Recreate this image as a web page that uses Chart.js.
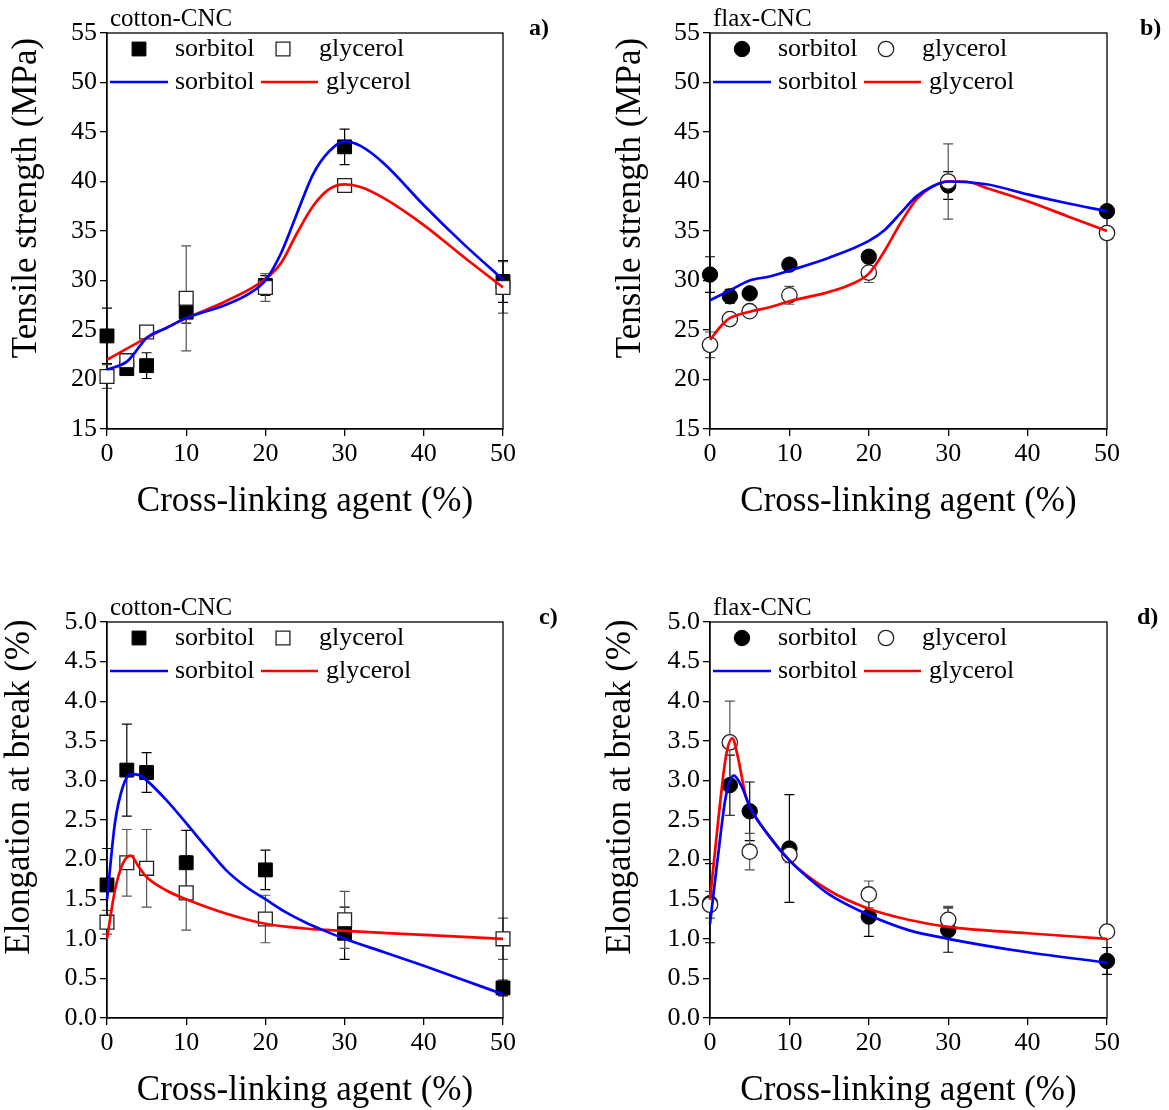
<!DOCTYPE html>
<html><head><meta charset="utf-8">
<script src="https://cdn.jsdelivr.net/npm/chart.js@4.4.0/dist/chart.umd.min.js"></script>
<style>
html,body{margin:0;padding:0;background:#fff;}
#wrap{position:relative;width:1169px;height:1110px;background:#fff;overflow:hidden;}
canvas{position:absolute;}
</style></head><body><div id="wrap">
<canvas id="ca" width="585" height="555" style="left:0px;top:0px;width:585px;height:555px"></canvas>
<canvas id="cb" width="579" height="555" style="left:590px;top:0px;width:579px;height:555px"></canvas>
<canvas id="cc" width="585" height="520" style="left:0px;top:590px;width:585px;height:520px"></canvas>
<canvas id="cd" width="579" height="520" style="left:590px;top:590px;width:579px;height:520px"></canvas>
</div>
<script>
// ---------- data ----------
const loading = [0, 2.5, 5, 10, 20, 30, 50];
const xTickValues = [0, 10, 20, 30, 40, 50];
const tsTickValues = [15, 20, 25, 30, 35, 40, 45, 50, 55];
const tsTickLabels = ['15', '20', '25', '30', '35', '40', '45', '50', '55'];
const ebTickValues = [0, 0.5, 1, 1.5, 2, 2.5, 3, 3.5, 4, 4.5, 5];
const ebTickLabels = ['0.0', '0.5', '1.0', '1.5', '2.0', '2.5', '3.0', '3.5', '4.0', '4.5', '5.0'];

// a) cotton-CNC tensile strength
const cottonTS_sorbitol = [24.4, 21.1, 21.4, 26.8, 29.5, 43.5, 29.9];
const cottonTS_sorbitolErr = [2.8, 0.5, 1.3, 1.1, 1.0, 1.8, 2.1];
const cottonTS_glycerol = [20.3, 21.9, 24.8, 28.2, 29.3, 39.6, 29.3];
const cottonTS_glycerolErr = [1.2, 0.4, 0.3, 5.3, 1.4, 0.5, 2.6];
const cottonTS_fitSorbitolX = [0, 2.5, 3.5, 5, 7.5, 10, 15, 18, 20, 22, 24, 26, 28, 30, 32, 35, 40, 45, 50];
const cottonTS_fitSorbitolY = [21.0, 21.8, 22.7, 24.2, 25.2, 26.2, 27.55, 28.7, 30.0, 32.8, 36.8, 40.7, 43.0, 44.05, 43.6, 41.8, 37.6, 33.7, 30.1];
const cottonTS_fitGlycerolX = [0, 5, 10, 15, 20, 22, 24, 26, 28, 30, 32, 35, 40, 45, 50];
const cottonTS_fitGlycerolY = [22.0, 24.2, 26.2, 27.9, 30.15, 31.8, 34.8, 37.5, 39.2, 39.7, 39.45, 38.3, 35.6, 32.4, 29.3];

// b) flax-CNC tensile strength
const flaxTS_sorbitol = [30.6, 28.4, 28.7, 31.6, 32.4, 39.6, 37.0];
const flaxTS_sorbitolErr = [1.8, 0.7, 0.3, 0.3, 0.6, 1.4, 0.3];
const flaxTS_glycerol = [23.5, 26.1, 26.9, 28.5, 30.8, 40.0, 34.8];
const flaxTS_glycerolErr = [1.3, 0.5, 0.3, 0.9, 1.0, 3.8, 0.3];
const flaxTS_fitSorbitolX = [0, 2.5, 5, 7.5, 10, 15, 20, 22, 24, 26, 28, 30, 35, 40, 45, 50];
const flaxTS_fitSorbitolY = [28.0, 29.0, 30.0, 30.4, 31.0, 32.3, 34.0, 35.1, 36.8, 38.5, 39.5, 40.0, 39.7, 38.7, 37.8, 37.0];
const flaxTS_fitGlycerolX = [0, 1.5, 2.5, 5, 7.5, 10, 15, 18, 20, 22, 24, 26, 28, 30, 32, 35, 40, 45, 50];
const flaxTS_fitGlycerolY = [24.0, 25.5, 26.2, 26.85, 27.3, 27.9, 28.85, 29.7, 30.7, 33.0, 35.8, 38.2, 39.5, 40.0, 40.0, 39.3, 38.0, 36.5, 35.0];

// c) cotton-CNC elongation at break
const cottonEB_sorbitol = [1.68, 3.13, 3.10, 1.96, 1.87, 1.07, 0.38];
const cottonEB_sorbitolErr = [0.46, 0.58, 0.25, 0.41, 0.25, 0.33, 0.10];
const cottonEB_glycerol = [1.21, 1.96, 1.89, 1.58, 1.25, 1.24, 1.00];
const cottonEB_glycerolErr = [0.15, 0.42, 0.49, 0.47, 0.30, 0.36, 0.26];
const cottonEB_fitSorbitolX = [0, 1, 2, 3, 4, 5, 7.5, 10, 12.5, 15, 17.5, 20, 22.5, 25, 27.5, 30, 35, 40, 45, 50];
const cottonEB_fitSorbitolY = [1.49, 2.46, 2.92, 3.08, 3.07, 3.0, 2.75, 2.46, 2.16, 1.87, 1.66, 1.50, 1.34, 1.21, 1.10, 1.00, 0.83, 0.66, 0.48, 0.30];
const cottonEB_fitGlycerolX = [0, 1, 2, 3, 4, 5, 7.5, 10, 15, 20, 25, 30, 40, 50];
const cottonEB_fitGlycerolY = [1.0, 1.61, 1.95, 2.05, 1.91, 1.78, 1.61, 1.50, 1.32, 1.19, 1.13, 1.10, 1.05, 1.00];

// d) flax-CNC elongation at break
const flaxEB_sorbitol = [1.45, 2.94, 2.61, 2.14, 1.28, 1.11, 0.72];
const flaxEB_sorbitolErr = [0.50, 0.38, 0.37, 0.68, 0.25, 0.28, 0.17];
const flaxEB_glycerol = [1.43, 3.48, 2.10, 2.06, 1.56, 1.24, 1.09];
const flaxEB_glycerolErr = [0.17, 0.52, 0.23, 0.10, 0.17, 0.17, 0.05];
const flaxEB_fitSorbitolX = [0, 1, 2, 3, 4, 5, 7.5, 10, 12.5, 15, 20, 25, 30, 40, 50];
const flaxEB_fitSorbitolY = [1.19, 2.04, 2.80, 3.06, 2.92, 2.67, 2.29, 1.99, 1.76, 1.56, 1.30, 1.11, 1.00, 0.83, 0.70];
const flaxEB_fitGlycerolX = [0, 1, 2, 2.8, 3.5, 4.5, 5, 7.5, 10, 15, 20, 25, 30, 40, 50];
const flaxEB_fitGlycerolY = [1.49, 2.46, 3.30, 3.53, 3.30, 2.80, 2.67, 2.29, 1.99, 1.61, 1.38, 1.24, 1.15, 1.07, 1.00];

const seriesNames = ['sorbitol', 'glycerol'];

// ---------- rendering ----------
const FONT = "'Liberation Serif', 'Times New Roman', serif";
function pts(xs, ys) { return xs.map((x, i) => ({ x: x, y: ys[i] })); }

const decorPlugin = {
  id: 'decor',
  beforeDatasetsDraw(chart) {
    const ctx = chart.ctx, a = chart.chartArea;
    const xs = chart.scales.x, ys = chart.scales.y;
    chart.data.datasets.forEach(ds => {
      if (!ds.errors) return;
      ctx.save();
      ctx.strokeStyle = ds.errorColor;
      ctx.lineWidth = 1.2;
      ds.data.forEach((p, i) => {
        const e = ds.errors[i];
        const px = xs.getPixelForValue(p.x);
        const y1 = ys.getPixelForValue(p.y + e), y2 = ys.getPixelForValue(p.y - e);
        ctx.beginPath();
        ctx.moveTo(px, y1); ctx.lineTo(px, y2);
        ctx.moveTo(px - 5, y1); ctx.lineTo(px + 5, y1);
        ctx.moveTo(px - 5, y2); ctx.lineTo(px + 5, y2);
        ctx.stroke();
      });
      ctx.restore();
    });
    ctx.save();
    ctx.strokeStyle = '#000'; ctx.lineWidth = 1.3;
    ctx.strokeRect(a.left, a.top, a.right - a.left, a.bottom - a.top);
    ctx.restore();
  },
  afterDatasetsDraw(chart) {
    const ctx = chart.ctx, a = chart.chartArea, o = chart.options.plugins.decor;
    const ds = chart.data.datasets;
    ctx.save();
    // legend
    const r1 = a.top + 16, r2 = a.top + 49;
    const markers = [ds[0], ds[1]];
    const mx = [a.left + 32, a.left + 176];
    markers.forEach((d, i) => {
      ctx.fillStyle = d.backgroundColor; ctx.strokeStyle = d.borderColor; ctx.lineWidth = d.borderWidth;
      Chart.helpers.drawPoint(ctx, { pointStyle: d.pointStyle, radius: d.pointRadius, borderWidth: d.borderWidth, rotation: 0 }, mx[i], r1);
    });
    const lines = [ds[2], ds[3]];
    const lx = [[a.left + 3, a.left + 61], [a.left + 154, a.left + 211]];
    lines.forEach((d, i) => {
      ctx.strokeStyle = d.borderColor; ctx.lineWidth = d.borderWidth;
      ctx.beginPath(); ctx.moveTo(lx[i][0], r2); ctx.lineTo(lx[i][1], r2); ctx.stroke();
    });
    ctx.fillStyle = '#000';
    ctx.font = '26px ' + FONT;
    ctx.textBaseline = 'middle'; ctx.textAlign = 'left';
    ctx.fillText(seriesNames[0], a.left + 68, r1);
    ctx.fillText(seriesNames[1], a.left + 212, r1);
    ctx.fillText(seriesNames[0], a.left + 68, r2);
    ctx.fillText(seriesNames[1], a.left + 219, r2);
    // panel label & letter
    ctx.textBaseline = 'alphabetic';
    ctx.font = '25px ' + FONT;
    ctx.fillText(o.label, a.left + 3, a.top - 7);
    ctx.font = 'bold 24px ' + FONT;
    ctx.fillText(o.letter, a.right + o.letterDx, a.top + 2);
    // axis titles
    ctx.font = '35px ' + FONT;
    ctx.textAlign = 'center';
    ctx.fillText(o.xTitle, (a.left + a.right) / 2, a.bottom + 82);
    ctx.save();
    ctx.translate(a.left - o.yTitleDx, a.top + 165);
    ctx.rotate(-Math.PI / 2);
    ctx.textBaseline = 'middle';
    ctx.fillText(o.yTitle, 0, 0);
    ctx.restore();
    ctx.restore();
  }
};

function makeChart(cfg) {
  const canvas = document.getElementById(cfg.id);
  const H = canvas.height;
  const marker = (name, ys, errs, filled, errColor, order) => ({
    label: name, data: pts(loading, ys), errors: errs, errorColor: errColor,
    pointStyle: cfg.style, pointRadius: cfg.style === 'rect' ? 9.8 : 7.7,
    backgroundColor: filled ? '#000' : '#fff', borderColor: filled ? '#000' : '#222',
    borderWidth: filled ? 1 : 1.3, showLine: false, clip: false, order: order
  });
  const curve = (name, xs, ys, color) => ({
    label: name, data: pts(xs, ys), showLine: true, pointRadius: 0, borderColor: color,
    backgroundColor: color, borderWidth: 2.7, cubicInterpolationMode: 'monotone', fill: false, clip: false, order: 0
  });
  new Chart(canvas, {
    type: 'scatter',
    data: { datasets: [
      marker(seriesNames[0], cfg.s, cfg.sErr, true, '#000', 2),
      marker(seriesNames[1], cfg.g, cfg.gErr, false, '#555', 1),
      curve(seriesNames[0], cfg.fsx, cfg.fsy, '#0000ff'),
      curve(seriesNames[1], cfg.fgx, cfg.fgy, '#ff0000')
    ] },
    options: {
      responsive: false, animation: false, devicePixelRatio: 1,
      layout: { padding: { left: 0, top: cfg.area.t, right: canvas.width - cfg.area.r, bottom: 0 } },
      plugins: { legend: { display: false }, tooltip: { enabled: false },
        decor: { label: cfg.label, letter: cfg.letter, letterDx: cfg.letterDx, xTitle: 'Cross-linking agent (%)', yTitle: cfg.yTitle, yTitleDx: cfg.yTitleDx } },
      scales: {
        x: {
          type: 'linear', min: 0, max: 50, offset: false,
          afterBuildTicks: s => { s.ticks = xTickValues.map(v => ({ value: v })); },
          afterFit: s => { s.height = H - cfg.area.b; },
          grid: { drawOnChartArea: false, drawTicks: true, tickLength: 7, color: '#000', lineWidth: 1.3 },
          border: { display: true, color: '#000', width: 1.3 },
          ticks: { font: { family: FONT, size: 26 }, color: '#000', padding: 3, maxRotation: 0, autoSkip: false,
                   callback: (v, i) => String(xTickValues[i]) },
          title: { display: false }
        },
        y: {
          type: 'linear', min: cfg.yTicks[0], max: cfg.yTicks[cfg.yTicks.length - 1],
          afterBuildTicks: s => { s.ticks = cfg.yTicks.map(v => ({ value: v })); },
          afterFit: s => { s.width = cfg.area.l; },
          grid: { drawOnChartArea: false, drawTicks: true, tickLength: 7, color: '#000', lineWidth: 1.3 },
          border: { display: true, color: '#000', width: 1.3 },
          ticks: { font: { family: FONT, size: 26 }, color: '#000', padding: 3, autoSkip: false,
                   callback: (v, i) => cfg.yLabels[i] },
          title: { display: false }
        }
      }
    },
    plugins: [decorPlugin]
  });
}

makeChart({ id: 'ca', area: { l: 107, t: 33, r: 503, b: 429 }, style: 'rect', label: 'cotton-CNC', letter: 'a)', letterDx: 26,
  yTitle: 'Tensile strength (MPa)', yTitleDx: 80, yTicks: tsTickValues, yLabels: tsTickLabels,
  s: cottonTS_sorbitol, sErr: cottonTS_sorbitolErr, g: cottonTS_glycerol, gErr: cottonTS_glycerolErr,
  fsx: cottonTS_fitSorbitolX, fsy: cottonTS_fitSorbitolY, fgx: cottonTS_fitGlycerolX, fgy: cottonTS_fitGlycerolY });
makeChart({ id: 'cb', area: { l: 120, t: 33, r: 517, b: 429 }, style: 'circle', label: 'flax-CNC', letter: 'b)', letterDx: 33,
  yTitle: 'Tensile strength (MPa)', yTitleDx: 79, yTicks: tsTickValues, yLabels: tsTickLabels,
  s: flaxTS_sorbitol, sErr: flaxTS_sorbitolErr, g: flaxTS_glycerol, gErr: flaxTS_glycerolErr,
  fsx: flaxTS_fitSorbitolX, fsy: flaxTS_fitSorbitolY, fgx: flaxTS_fitGlycerolX, fgy: flaxTS_fitGlycerolY });
makeChart({ id: 'cc', area: { l: 107, t: 32, r: 503, b: 428 }, style: 'rect', label: 'cotton-CNC', letter: 'c)', letterDx: 36,
  yTitle: 'Elongation at break (%)', yTitleDx: 87, yTicks: ebTickValues, yLabels: ebTickLabels,
  s: cottonEB_sorbitol, sErr: cottonEB_sorbitolErr, g: cottonEB_glycerol, gErr: cottonEB_glycerolErr,
  fsx: cottonEB_fitSorbitolX, fsy: cottonEB_fitSorbitolY, fgx: cottonEB_fitGlycerolX, fgy: cottonEB_fitGlycerolY });
makeChart({ id: 'cd', area: { l: 120, t: 32, r: 517, b: 428 }, style: 'circle', label: 'flax-CNC', letter: 'd)', letterDx: 30,
  yTitle: 'Elongation at break (%)', yTitleDx: 89, yTicks: ebTickValues, yLabels: ebTickLabels,
  s: flaxEB_sorbitol, sErr: flaxEB_sorbitolErr, g: flaxEB_glycerol, gErr: flaxEB_glycerolErr,
  fsx: flaxEB_fitSorbitolX, fsy: flaxEB_fitSorbitolY, fgx: flaxEB_fitGlycerolX, fgy: flaxEB_fitGlycerolY });
</script>
</body></html>
